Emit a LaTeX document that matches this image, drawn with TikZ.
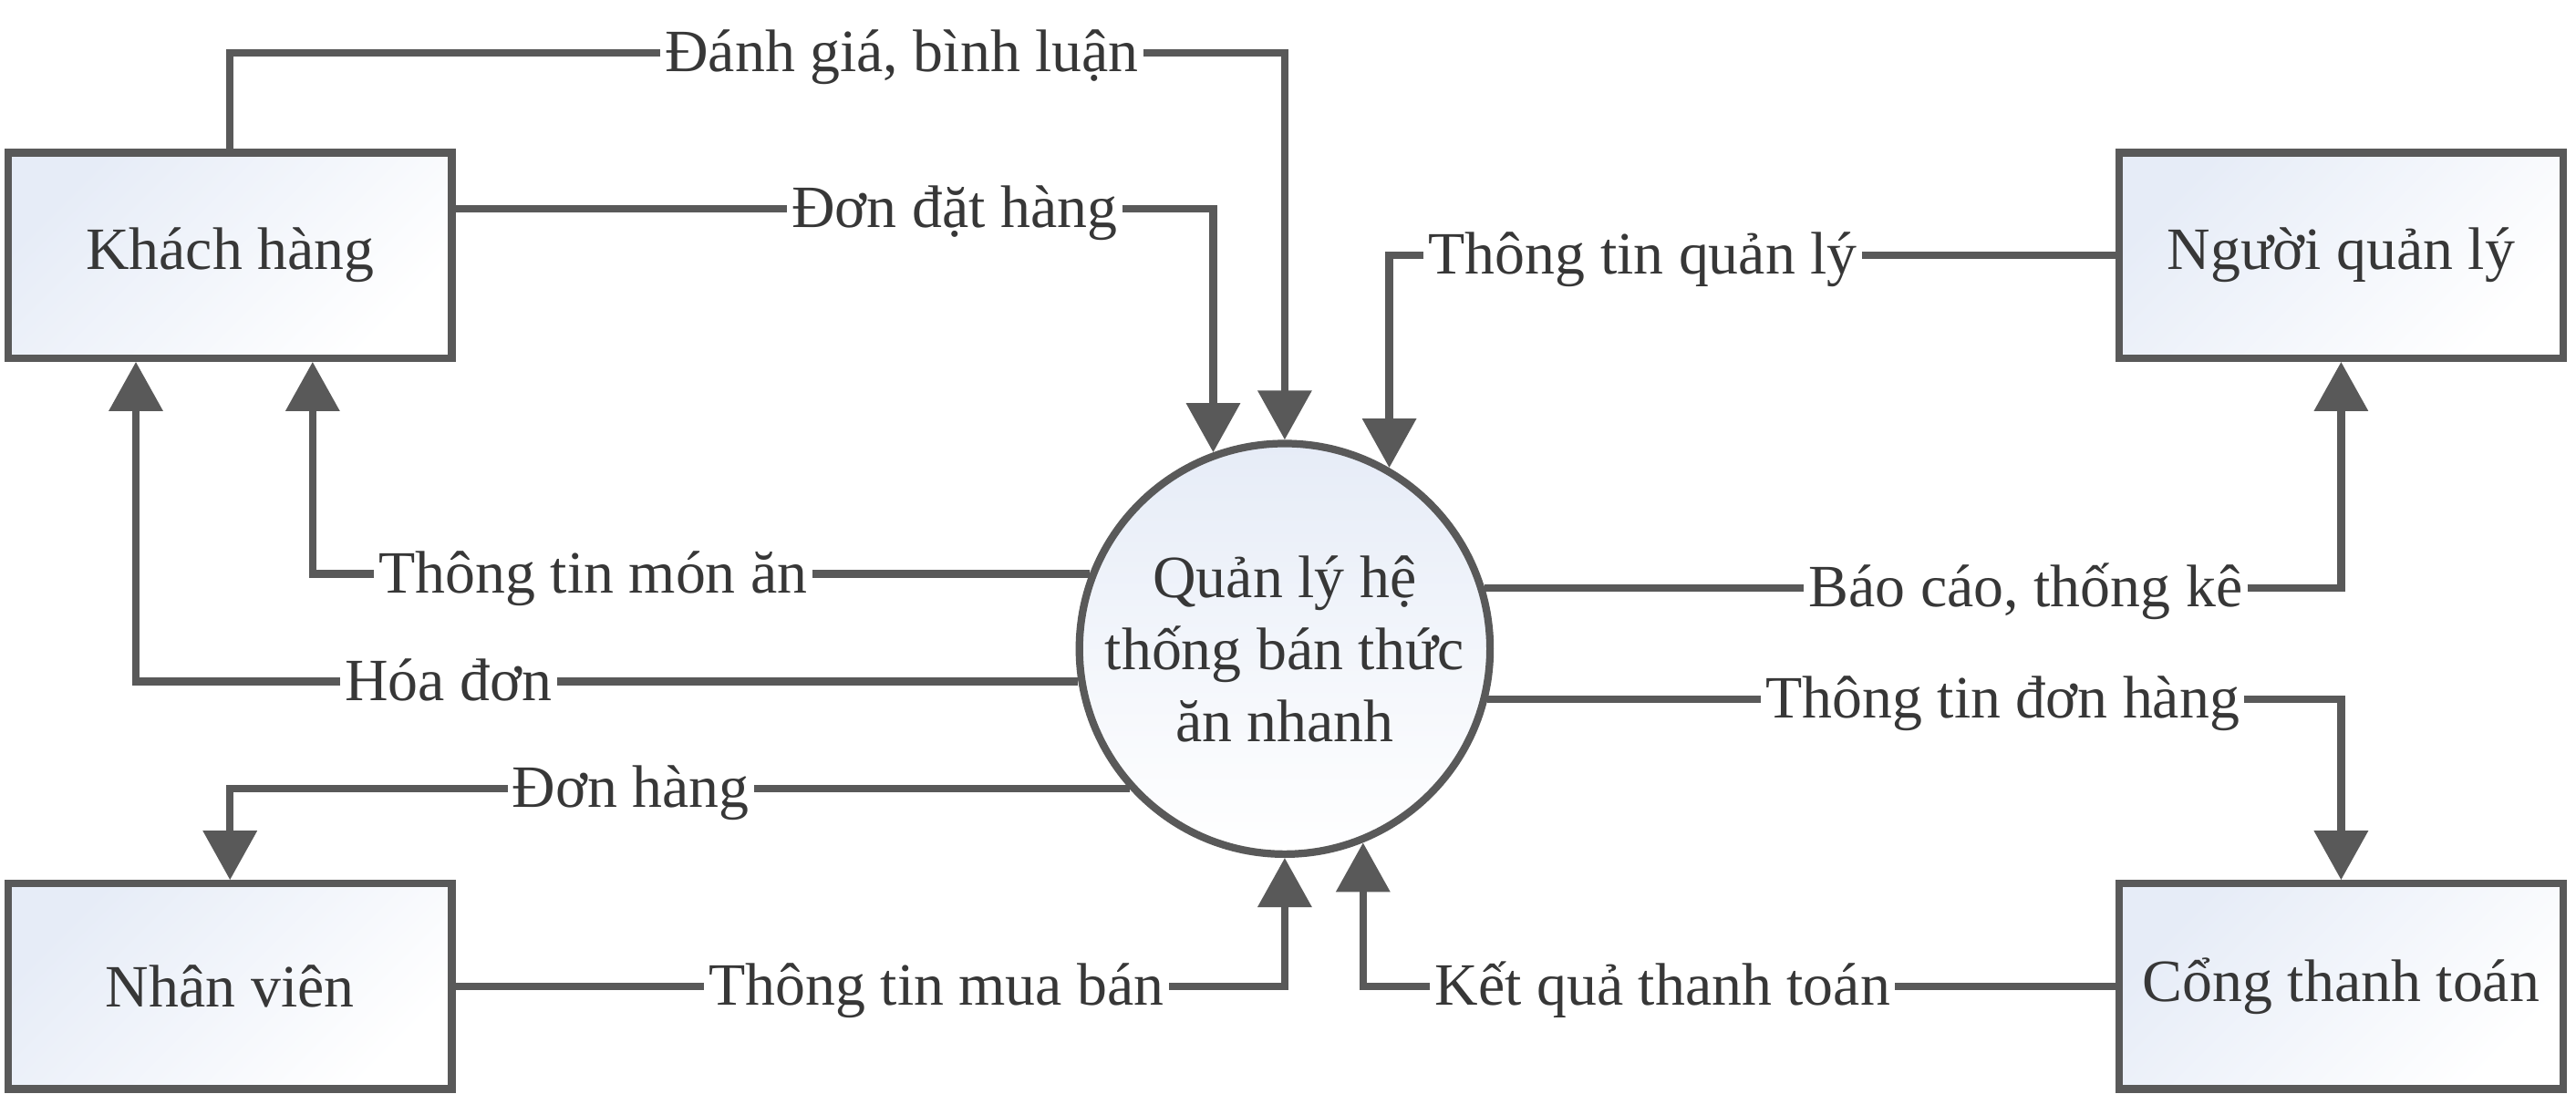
\documentclass[tikz,border=0pt]{standalone}
\usepackage{fontspec}
\setmainfont{Liberation Serif}
\usetikzlibrary{arrows.meta, positioning, calc, shapes.geometric}
\definecolor{flowgray}{RGB}{89,89,89}
\definecolor{textgray}{RGB}{55,55,55}
\definecolor{paleblue}{RGB}{230,236,247}

\begin{document}
\begin{tikzpicture}[
  line width=1.3pt,
  entity/.style={draw=flowgray, line width=1.3pt, top color=paleblue, bottom color=white, shading angle=45,
    minimum width=2.7cm, minimum height=1.25cm, inner sep=0pt, font=\fontsize{10.4}{12.5}\selectfont, text=textgray},
  process/.style={entity, circle, minimum size=2.5cm, shading angle=0, align=center},
  lbl/.style={inner xsep=0.2pt, inner ysep=0pt, text height=0.75em, text depth=0.1em,
    font=\fontsize{10.4}{12.5}\selectfont, text=textgray},
  conn/.style={draw=flowgray, line width=1.3pt},
  flow/.style={conn, -{Triangle[length=3mm, width=3.2mm]}},
]
\useasboundingbox (0,0) rectangle (15.68,-6.66);

% Process
\node[process] (proc) at (7.82,-3.95) {Quản lý hệ\\thống bán thức\\ăn nhanh};

% External entities
\node[entity] (customer) at (1.40,-1.555) {Khách hàng};
\node[entity] (manager) at (14.25,-1.555) {Người quản lý};
\node[entity] (staff) at (1.40,-6.005) {Nhân viên};
\node[entity] (payment) at (14.25,-6.005) {Cổng thanh toán};

% Flow labels
\node[lbl] (review) at (5.49,-0.32) {Đánh giá, bình luận};
\node[lbl] (order) at (5.81,-1.27) {Đơn đặt hàng};
\node[lbl] (mgmtinfo) at (manager.west -| 10.00,0) {Thông tin quản lý};
\node[lbl] (menuinfo) at (proc.159.4 -| 3.61,0) {Thông tin món ăn};
\node[lbl] (invoice) at (proc.189.7 -| 2.73,0) {Hóa đơn};
\node[lbl] (staffjob) at (proc.222.2 -| 3.84,0) {Đơn hàng};
\node[lbl] (sales) at (staff.east -| 5.70,0) {Thông tin mua bán};
\node[lbl] (payresult) at (payment.west -| 10.12,0) {Kết quả thanh toán};
\node[lbl] (report) at (proc.17.7 -| 12.33,0) {Báo cáo, thống kê};
\node[lbl] (orderinfo) at (proc.-14.8 -| 12.19,0) {Thông tin đơn hàng};

% Customer <-> process
\draw[conn] (customer.north) |- (review.west);
\draw[flow] (review.east) -| (proc.north);
\draw[conn] (customer.east |- order) -- (order.west);
\draw[flow] (order.east) -| (proc.110.6);
\draw[conn] (proc.159.4) -- (menuinfo.east);
\draw[flow] (menuinfo.west) -| ([xshift=-0.87cm]customer.south east);
\draw[conn] (proc.189.7) -- (invoice.east);
\draw[flow] (invoice.west) -| ([xshift=0.80cm]customer.south west);

% Manager <-> process
\draw[conn] (manager.west) -- (mgmtinfo.east);
\draw[flow] (mgmtinfo.west) -| (proc.60);
\draw[conn] (proc.17.7) -- (report.west);
\draw[flow] (report.east) -| (manager.south);

% Staff <-> process
\draw[conn] (proc.222.2) -- (staffjob.east);
\draw[flow] (staffjob.west) -| (staff.north);
\draw[conn] (staff.east) -- (sales.west);
\draw[flow] (sales.east) -| (proc.south);

% Payment <-> process
\draw[conn] (proc.-14.8) -- (orderinfo.west);
\draw[flow] (orderinfo.east) -| (payment.north);
\draw[conn] (payment.west) -- (payresult.east);
\draw[flow] (payresult.west) -| (proc.-68.4);
\end{tikzpicture}
\end{document}
